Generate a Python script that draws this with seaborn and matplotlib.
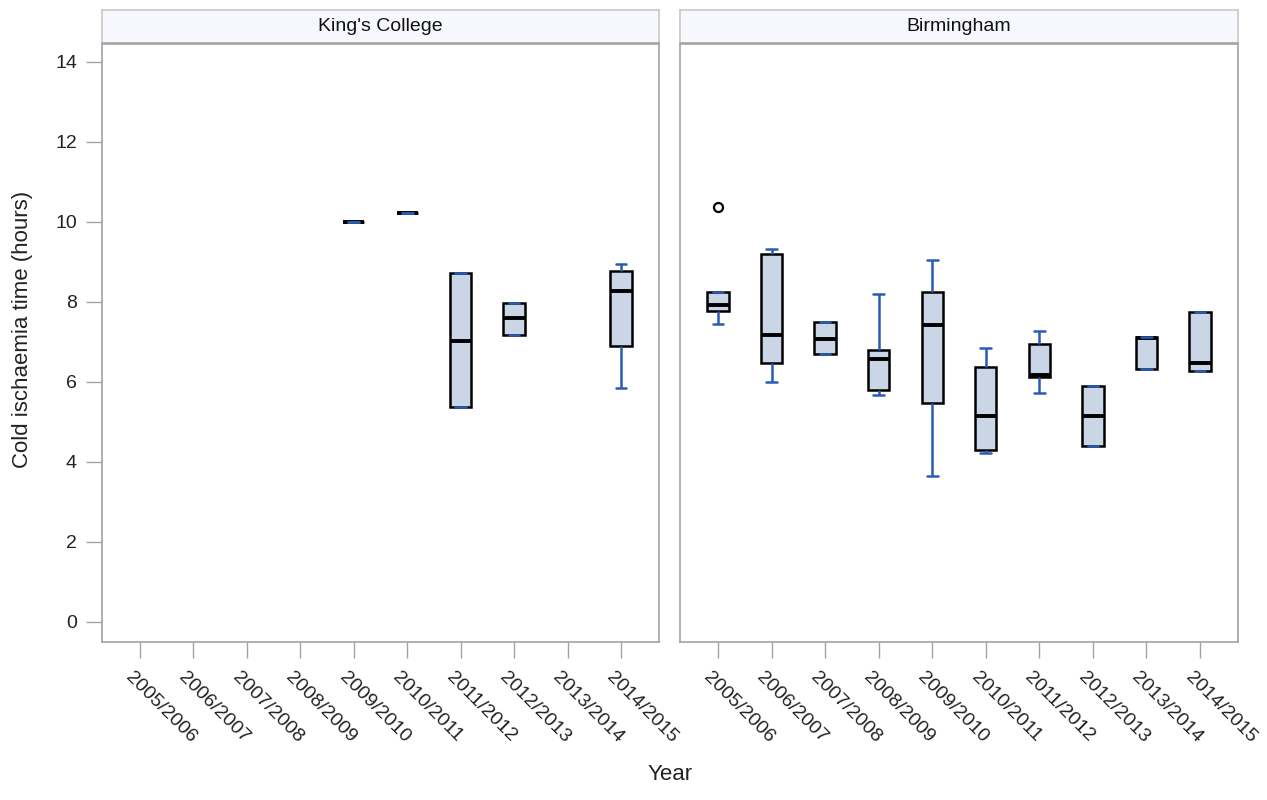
import numpy as np
import pandas as pd
import matplotlib
matplotlib.use("Agg")
import matplotlib.pyplot as plt
import matplotlib.transforms as mtransforms
import seaborn as sns

years = ['2005/2006', '2006/2007', '2007/2008', '2008/2009', '2009/2010',
         '2010/2011', '2011/2012', '2012/2013', '2013/2014', '2014/2015']

# King's College five-number summaries
kc_years = ['2009/2010', '2010/2011', '2011/2012', '2012/2013', '2014/2015']
kc_min = [10.00, 10.22, 5.38, 7.17, 5.85]
kc_q1 = [10.00, 10.22, 5.38, 7.17, 6.90]
kc_med = [10.00, 10.22, 7.03, 7.60, 8.28]
kc_q3 = [10.00, 10.22, 8.72, 7.97, 8.77]
kc_max = [10.00, 10.22, 8.72, 7.97, 8.96]

# Birmingham five-number summaries
bh_years = years
bh_min = [7.46, 6.00, 6.70, 5.68, 3.65, 4.22, 5.72, 4.40, 6.33, 6.28]
bh_q1 = [7.78, 6.48, 6.70, 5.80, 5.48, 4.30, 6.13, 4.40, 6.33, 6.28]
bh_med = [7.93, 7.18, 7.08, 6.58, 7.42, 5.15, 6.17, 5.15, 7.09, 6.47]
bh_q3 = [8.25, 9.19, 7.50, 6.79, 8.24, 6.37, 6.94, 5.91, 7.12, 7.74]
bh_max = [8.25, 9.33, 7.50, 8.20, 9.04, 6.84, 7.27, 5.91, 7.12, 7.74]

# Birmingham outliers
bh_out_year = ['2005/2006']
bh_out_val = [10.37]

panels = ["King's College", "Birmingham"]
y_ticks = [0, 2, 4, 6, 8, 10, 12, 14]


def long_frame(yrs, mn, q1, md, q3, mx):
    rows = []
    for i, y in enumerate(yrs):
        for v in (mn[i], q1[i], md[i], q3[i], mx[i]):
            rows.append((y, v))
    return pd.DataFrame(rows, columns=['year', 'value'])


sns.set_theme(style='white')
plt.rcParams['font.family'] = ['Liberation Sans', 'DejaVu Sans']

FILL = '#CAD5E6'
BLUE = '#2A5CB4'
GRAY = '#A3A3A3'
TXT = '#222222'

fig = plt.figure(figsize=(12.67, 8), dpi=100)
W, H = 1267, 800

def axpos(x0, x1, y0, y1):
    return [x0 / W, 1 - y1 / H, (x1 - x0) / W, (y1 - y0) / H]

ax_l = fig.add_axes(axpos(102, 659, 44, 642))
ax_r = fig.add_axes(axpos(680, 1238, 44, 642))
hd_l = fig.add_axes(axpos(102, 659, 10, 43))
hd_r = fig.add_axes(axpos(680, 1238, 10, 43))

frames = [long_frame(kc_years, kc_min, kc_q1, kc_med, kc_q3, kc_max),
          long_frame(bh_years, bh_min, bh_q1, bh_med, bh_q3, bh_max)]

for ax, df in zip([ax_l, ax_r], frames):
    sns.boxplot(data=df, x='year', y='value', order=years, ax=ax,
                color=FILL, saturation=1, width=0.4, whis=(0, 100),
                showfliers=False, linecolor='black', linewidth=1.8,
                whiskerprops=dict(color=BLUE, linewidth=1.8),
                capprops=dict(color=BLUE, linewidth=1.8, zorder=5),
                medianprops=dict(color='black', linewidth=2.8, zorder=4))

sns.stripplot(x=bh_out_year, y=bh_out_val, order=years, ax=ax_r, jitter=False,
              color='white', edgecolor='black', linewidth=1.6, size=6.5, zorder=6)

offset = mtransforms.ScaledTranslation(-12 / 100, 0, fig.dpi_scale_trans)

for ax in [ax_l, ax_r]:
    ax.set_xlim(-0.71, 9.71)
    ax.set_ylim(-0.5, 14.45)
    ax.set_yticks(y_ticks)
    for s in ax.spines.values():
        s.set_color(GRAY)
        s.set_linewidth(1.2)
    ax.tick_params(axis='both', length=11.5, width=1, color=GRAY, labelsize=14,
                   labelcolor=TXT, direction='out', bottom=True, left=True)
    ax.tick_params(axis='x', pad=12)
    ax.tick_params(axis='y', pad=6.5)
    ax.set_xlabel('')
    ax.set_ylabel('')
    ax.set_xticks(range(len(years)))
    ax.set_xticklabels(years, rotation=-45, ha='left', va='center',
                       rotation_mode='anchor')

ax_l.set_yticklabels([str(t) for t in y_ticks])
ax_r.tick_params(axis='y', left=False, labelleft=False)

for hd, name in zip([hd_l, hd_r], panels):
    hd.set_facecolor('#F7F8FD')
    hd.set_xticks([])
    hd.set_yticks([])
    for s in hd.spines.values():
        s.set_color('#C8C8C8')
        s.set_linewidth(1.2)
    hd.spines['bottom'].set_color(GRAY)
    hd.text(0.5, 0.5, name, ha='center', va='center', fontsize=14,
            color='#111111', transform=hd.transAxes)

fig.text(23 / W, 1 - 329 / H, 'Cold ischaemia time (hours)', rotation=90,
         ha='center', va='center', fontsize=16, color=TXT)
fig.text(670 / W, 1 - 775 / H, 'Year', ha='center', va='center', fontsize=16,
         color=TXT)

for ax in [ax_l, ax_r]:
    for lbl in ax.get_xticklabels():
        lbl.set_transform(lbl.get_transform() + offset)

fig.savefig('out.png', dpi=100)
